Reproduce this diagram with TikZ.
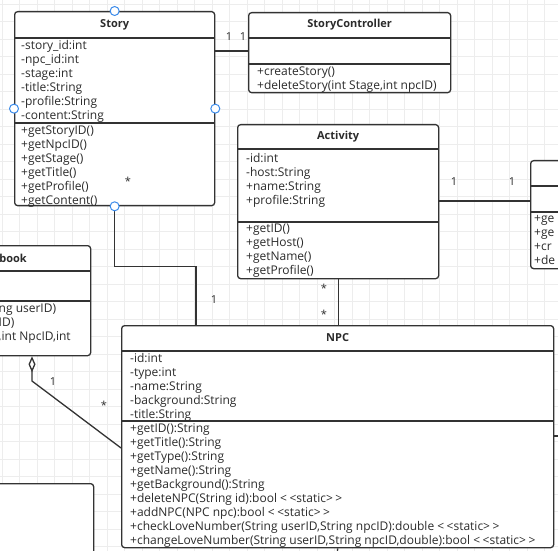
\documentclass[tikz,border=0pt]{standalone}
\usepackage{fontspec}
\setmainfont{Open Sans}
\usetikzlibrary{arrows.meta,positioning}

\definecolor{umlline}{HTML}{333333}
\definecolor{umltext}{HTML}{2B2B2B}
\definecolor{gridgray}{HTML}{EDEDED}
\definecolor{handleblue}{HTML}{3B8BEA}

\tikzset{
  classbox/.style={draw=umlline, line width=1.3pt, fill=white, rounded corners=3pt,
    anchor=north west, inner sep=0pt},
  classtitle/.style={font=\fontsize{11}{14}\selectfont\bfseries, inner sep=0pt, text=umltext},
  members/.style={font=\fontsize{12}{14}\selectfont, align=left, anchor=north west,
    inner sep=0pt, text=umltext},
  mult/.style={font=\fontsize{11}{14}\selectfont, inner sep=0pt, text=umltext},
  link/.style={draw=umlline, line width=1.3pt},
  gridline/.style={draw=gridgray, line width=0.8pt},
  handle/.style={circle, draw=handleblue, fill=white, line width=1pt,
    minimum size=9pt, inner sep=0pt},
}
\newcommand{\stereo}[1]{<\kern2.5pt<#1>\kern2.5pt>}

\begin{document}
\begin{tikzpicture}[x=1pt,y=-1pt]
    \useasboundingbox (0,0) rectangle (558,551);
    \clip (0,0) rectangle (558,551);
    \fill[white] (0,0) rectangle (558,551);

    % grid
    \foreach \i in {0,...,31}
        \draw[gridline] (2.3+17.5*\i,0) -- ++(0,551);
    \foreach \j in {0,...,31}
        \draw[gridline] (0,4.2+17.5*\j) -- ++(558,0);

    % classes
    \node[classbox, minimum width=200pt, minimum height=194pt] (story) at (14,11) {};
    \node[classbox, minimum width=202pt, minimum height=80pt] (storyctrl) at (248,12) {};
    \node[classbox, minimum width=201pt, minimum height=154pt] (activity) at (237,124) {};
    \node[classbox, minimum width=100pt, minimum height=108pt] (rightcls) at (530,160) {};
    \node[classbox, minimum width=130pt, minimum height=110pt] (book) at (-40,245) {};
    \node[classbox, minimum width=432pt, minimum height=222pt] (npc) at (121,325) {};
    \node[classbox, minimum width=133pt, minimum height=120pt] (lowcls) at (-40,483) {};

    % compartments
    \draw[link] ([yshift=-27pt]story.north west) -- ([yshift=-27pt]story.north east);
    \draw[link] ([yshift=-112pt]story.north west) -- ([yshift=-112pt]story.north east);
    \draw[link] ([yshift=-26pt]storyctrl.north west) -- ([yshift=-26pt]storyctrl.north east);
    \draw[link] ([yshift=-52pt]storyctrl.north west) -- ([yshift=-52pt]storyctrl.north east);
    \draw[link] ([yshift=-25pt]activity.north west) -- ([yshift=-25pt]activity.north east);
    \draw[link] ([yshift=-98pt]activity.north west) -- ([yshift=-98pt]activity.north east);
    \draw[link] ([yshift=-26pt]rightcls.north west) -- ([yshift=-26pt]rightcls.north east);
    \draw[link] ([yshift=-52pt]rightcls.north west) -- ([yshift=-52pt]rightcls.north east);
    \draw[link] ([yshift=-26pt]book.north west) -- ([yshift=-26pt]book.north east);
    \draw[link] ([yshift=-56pt]book.north west) -- ([yshift=-56pt]book.north east);
    \draw[link] ([yshift=-26pt]npc.north west) -- ([yshift=-26pt]npc.north east);
    \draw[link] ([yshift=-96pt]npc.north west) -- ([yshift=-96pt]npc.north east);

    % connectors
    \coordinate (aggbend) at (32,381);
    \coordinate (npcout) at (565,436);
    \coordinate (npcdown) at (337,565);
    \draw[link] (story.east |- 0,51) -- (storyctrl.west |- 0,51);
    \draw[link] (activity.east |- 0,201) -- (rightcls.west |- 0,201);
    \draw[link] (story.south) -- ++(0,60) -| ([xshift=75pt]npc.north west);
    \draw[link] (activity.south) -- (activity.south |- npc.north);
    \draw[link, -{Diamond[open, length=16pt, width=7pt]}]
        ([yshift=-123pt]npc.north west) -- (aggbend) -- (aggbend |- book.south);
    \draw[link] (npc.east |- npcout) -- (npcout);
    \draw[link] (npc.south) -- (npcdown);

    % titles
    \node[classtitle] (storyname) at ([yshift=-13.5pt]story.north) {Story};
    \node[classtitle] (storyctrlname) at ([yshift=-13pt]storyctrl.north) {StoryController};
    \node[classtitle] (activityname) at ([yshift=-13pt]activity.north) {Activity};
    \node[classtitle, anchor=east] (bookname) at (27,258) {book};
    \node[classtitle] (npcname) at ([yshift=-13pt]npc.north) {NPC};

    % members
    \node[members] (storyattr) at (21,40.5)
        {-story\_id:int\\-npc\_id:int\\-stage:int\\-title:String\\-profile:String\\-content:String};
    \node[members] (storyops) at (21,125.5)
        {+getStoryID()\\+getNpcID()\\+getStage()\\+getTitle()\\+getProfile()\\+getContent()};
    \node[members] (storyctrlops) at (257,66.5)
        {+createStory()\\+deleteStory(int Stage,int npcID)};
    \node[members] (activityattr) at (246,153.5)
        {-id:int\\-host:String\\+name:String\\+profile:String};
    \node[members] (activityops) at (246,223.5)
        {+getID()\\+getHost()\\+getName()\\+getProfile()};
    \node[members] (rightops) at (534,215.5)
        {+ge\\+ge\\+cr\\+de};
    \node[members] (bookops) at (-1.5,303.5)
        {ng userID)\\ID)\\,int NpcID,int};
    \node[members] (npcattr) at (130,353)
        {-id:int\\-type:int\\-name:String\\-background:String\\-title:String};
    \node[members] (npcops) at (130,423.5)
        {+getID():String\\+getTitle():String\\+getType():String\\+getName():String\\
         +getBackground():String\\+deleteNPC(String id):bool \stereo{static}\\
         +addNPC(NPC npc):bool \stereo{static}\\
         +checkLoveNumber(String userID,String npcID):double \stereo{static}\\
         +changeLoveNumber(String userID,String npcID,double):bool \stereo{static}};

    % multiplicities
    \node[mult] (m1) at (229,37) {1};
    \node[mult] (m2) at (243,37) {1};
    \node[mult] (m3) at (454,182) {1};
    \node[mult] (m4) at (512,182) {1};
    \node[mult] (m5) at (128,181) {*};
    \node[mult] (m6) at (214,300) {1};
    \node[mult] (m7) at (324,288) {*};
    \node[mult] (m8) at (324,314) {*};
    \node[mult] (m9) at (53,382) {1};
    \node[mult] (m10) at (104,405) {*};

    % selection handles
    \node[handle] (h1) at (story.north) {};
    \node[handle] (h2) at (story.west) {};
    \node[handle] (h3) at (story.east) {};
    \node[handle] (h4) at (story.south) {};
\end{tikzpicture}
\end{document}
